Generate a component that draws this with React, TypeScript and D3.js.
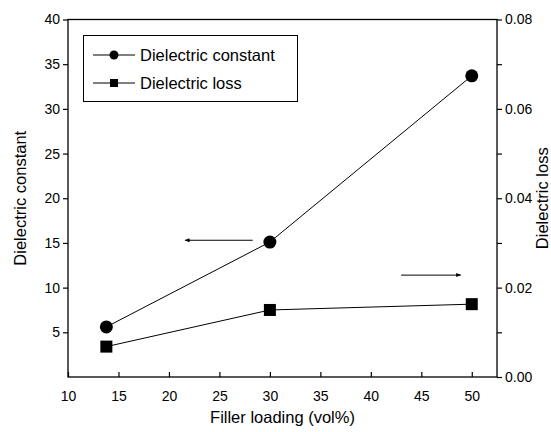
import React from "react";
import * as d3 from "d3";

// filler loading (vol%)
const loadings = [13.8, 30, 50];
// dielectric constant (left axis)
const constantValues = [5.6, 15.1, 33.7];
// dielectric loss (right axis)
const lossValues = [0.0068, 0.015, 0.0163];

const xTicks = [10, 15, 20, 25, 30, 35, 40, 45, 50];
const leftTicks = [5, 10, 15, 20, 25, 30, 35, 40];
const rightTicks = [0, 0.02, 0.04, 0.06, 0.08];
const rightMinorTicks = [0.01, 0.03, 0.05, 0.07];

const legendItems = [
  { label: "Dielectric constant", shape: "circle" },
  { label: "Dielectric loss", shape: "square" },
];

const width = 551;
const height = 432;
const margin = { top: 19.5, right: 54, bottom: 55, left: 68 };
const font = "'Liberation Sans', Arial, Helvetica, sans-serif";

const App = () => {
  const svgRef = React.useRef<SVGSVGElement>(null);

  React.useEffect(() => {
    const svg = d3.select(svgRef.current);
    svg.selectAll("*").remove();

    const x = d3.scaleLinear().domain([10, 52.5]).range([margin.left, width - margin.right]);
    const yL = d3.scaleLinear().domain([0, 40]).range([height - margin.bottom, margin.top]);
    const yR = d3.scaleLinear().domain([0, 0.08]).range([height - margin.bottom, margin.top]);

    const defs = svg.append("defs");
    defs.append("marker")
      .attr("id", "arrowhead")
      .attr("viewBox", "0 0 10 10")
      .attr("refX", 9)
      .attr("refY", 5)
      .attr("markerWidth", 7)
      .attr("markerHeight", 5)
      .attr("markerUnits", "userSpaceOnUse")
      .attr("orient", "auto")
      .append("path")
      .attr("d", "M0,1 L10,5 L0,9 Z")
      .attr("fill", "#000");

    // frame
    svg.append("rect")
      .attr("x", margin.left)
      .attr("y", margin.top)
      .attr("width", width - margin.left - margin.right)
      .attr("height", height - margin.top - margin.bottom)
      .attr("fill", "none")
      .attr("stroke", "#000")
      .attr("stroke-width", 1.3);

    const styleAxis = (g) => {
      g.select(".domain").remove();
      g.selectAll(".tick line").attr("stroke", "#000").attr("stroke-width", 1.2);
      g.selectAll(".tick text").attr("font-family", font).attr("font-size", 14).attr("fill", "#000");
    };

    svg.append("g")
      .attr("transform", `translate(0,${height - margin.bottom})`)
      .call(d3.axisBottom(x).tickValues(xTicks).tickFormat(d3.format("d")).tickSizeInner(-5).tickSizeOuter(0).tickPadding(14))
      .call(styleAxis);

    svg.append("g")
      .attr("transform", `translate(${margin.left},0)`)
      .call(d3.axisLeft(yL).tickValues(leftTicks).tickFormat(d3.format("d")).tickSize(5).tickPadding(3))
      .call(styleAxis);

    svg.append("g")
      .attr("transform", `translate(${width - margin.right},0)`)
      .call(d3.axisRight(yR).tickValues(rightTicks).tickFormat(d3.format(".2f")).tickSize(5).tickPadding(3))
      .call(styleAxis);

    svg.append("g")
      .attr("transform", `translate(${width - margin.right},0)`)
      .call(d3.axisRight(yR).tickValues(rightMinorTicks).tickFormat(() => "").tickSize(5))
      .call(styleAxis);

    // axis titles
    svg.append("text")
      .attr("x", (margin.left + width - margin.right) / 2)
      .attr("y", 423)
      .attr("text-anchor", "middle")
      .attr("font-family", font)
      .attr("font-size", 16.5)
      .text("Filler loading (vol%)");

    const midY = (margin.top + height - margin.bottom) / 2;
    svg.append("text")
      .attr("transform", `translate(26,${midY}) rotate(-90)`)
      .attr("text-anchor", "middle")
      .attr("font-family", font)
      .attr("font-size", 16.5)
      .text("Dielectric constant");

    svg.append("text")
      .attr("transform", `translate(548,${midY}) rotate(-90)`)
      .attr("text-anchor", "middle")
      .attr("font-family", font)
      .attr("font-size", 16.5)
      .text("Dielectric loss");

    // series
    const constLine = d3.line<number>().x((d, i) => x(loadings[i])).y((d) => yL(d));
    const lossLine = d3.line<number>().x((d, i) => x(loadings[i])).y((d) => yR(d));

    svg.append("path").attr("d", constLine(constantValues)).attr("fill", "none").attr("stroke", "#000").attr("stroke-width", 1);
    svg.append("path").attr("d", lossLine(lossValues)).attr("fill", "none").attr("stroke", "#000").attr("stroke-width", 1);

    svg.append("g").selectAll("circle")
      .data(constantValues)
      .join("circle")
      .attr("cx", (d, i) => x(loadings[i]))
      .attr("cy", (d) => yL(d))
      .attr("r", 6.5)
      .attr("fill", "#000");

    const sq = 12;
    svg.append("g").selectAll("rect")
      .data(lossValues)
      .join("rect")
      .attr("x", (d, i) => x(loadings[i]) - sq / 2)
      .attr("y", (d) => yR(d) - sq / 2)
      .attr("width", sq)
      .attr("height", sq)
      .attr("fill", "#000");

    // arrows pointing to the axis each series belongs to
    svg.append("line")
      .attr("x1", x(28.3)).attr("y1", yL(15.3))
      .attr("x2", x(21.6)).attr("y2", yL(15.3))
      .attr("stroke", "#000").attr("stroke-width", 1)
      .attr("marker-end", "url(#arrowhead)");

    svg.append("line")
      .attr("x1", x(43)).attr("y1", yR(0.0228))
      .attr("x2", x(48.9)).attr("y2", yR(0.0228))
      .attr("stroke", "#000").attr("stroke-width", 1)
      .attr("marker-end", "url(#arrowhead)");

    // legend
    const legend = svg.append("g");
    legend.append("rect")
      .attr("x", 83.5).attr("y", 35.5)
      .attr("width", 214).attr("height", 66)
      .attr("fill", "#fff").attr("stroke", "#000").attr("stroke-width", 1);

    legendItems.forEach((item, i) => {
      const ly = 55 + i * 28;
      legend.append("line")
        .attr("x1", 93).attr("x2", 135).attr("y1", ly).attr("y2", ly)
        .attr("stroke", "#000").attr("stroke-width", 1);
      if (item.shape === "circle") {
        legend.append("circle").attr("cx", 114).attr("cy", ly).attr("r", 4.5).attr("fill", "#000");
      } else {
        legend.append("rect").attr("x", 110).attr("y", ly - 4).attr("width", 8).attr("height", 8).attr("fill", "#000");
      }
      legend.append("text")
        .attr("x", 140).attr("y", ly)
        .attr("dy", "0.35em")
        .attr("font-family", font)
        .attr("font-size", 16.5)
        .text(item.label);
    });
  }, []);

  return (
    <svg
      ref={svgRef}
      width={width}
      height={height}
      style={{ position: "absolute", left: 0, top: 0, background: "#fff", display: "block" }}
    ></svg>
  );
};

export default App;
